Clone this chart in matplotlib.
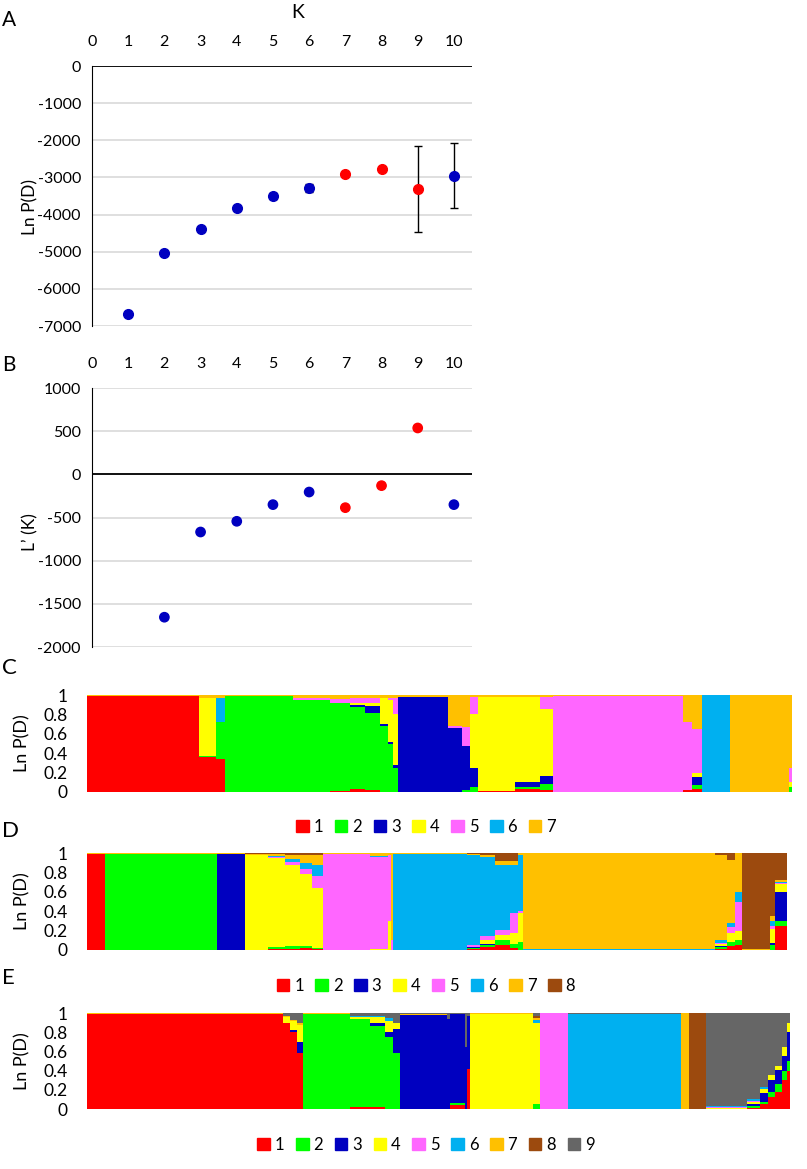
import numpy as np
import matplotlib
matplotlib.use('Agg')
import matplotlib.pyplot as plt
from matplotlib.patches import Patch

# --- A: Ln P(D) per K
k_vals = [1, 2, 3, 4, 5, 6, 7, 8, 9, 10]
lnpd_mean = [-6685, -5030, -4375, -3835, -3495, -3285, -2895, -2765, -3305, -2955]
lnpd_sd = [30, 30, 30, 40, 80, 100, 30, 30, 1160, 875]

# --- B: L'(K)
lk_k = [2, 3, 4, 5, 6, 7, 8, 9, 10]
lk_vals = [-1655, -668, -544, -351, -205, -386, -131, 537, -351]

red_k = [7, 8, 9]  # highlighted K

k_ticks = [0, 1, 2, 3, 4, 5, 6, 7, 8, 9, 10]
a_yticks = [0, -1000, -2000, -3000, -4000, -5000, -6000, -7000]
b_yticks = [1000, 500, 0, -500, -1000, -1500, -2000]
q_ticks = [0, 0.2, 0.4, 0.6, 0.8, 1]
q_ticklabels = ['0', '0.2', '0.4', '0.6', '0.8', '1']

clus_colors = ['#FF0000', '#00FF00', '#0000C0', '#FFFF00', '#FF66FF',
               '#00B0F0', '#FFC000', '#9C4A0E', '#666666']

# --- C: K=7, groups of individuals (count, membership q1..q7)
c_widths = [112, 17, 9, 68, 37, 20, 15, 15, 8, 5, 5, 50, 14, 8, 8, 37, 25, 13, 130, 9, 10, 28, 59, 3]
c_q = [
    [0.99, 0, 0, 0, 0, 0, 0.01],
    [0.36, 0.01, 0, 0.60, 0, 0, 0.03],
    [0.34, 0.38, 0, 0, 0, 0.25, 0.03],
    [0, 0.99, 0, 0, 0, 0, 0.01],
    [0, 0.95, 0, 0, 0.02, 0, 0.03],
    [0.01, 0.91, 0, 0, 0.04, 0, 0.04],
    [0.03, 0.85, 0.02, 0.02, 0.05, 0, 0.03],
    [0.02, 0.79, 0.08, 0.03, 0.05, 0, 0.03],
    [0, 0.68, 0.02, 0.27, 0, 0, 0.03],
    [0, 0.50, 0.02, 0.43, 0.02, 0, 0.03],
    [0, 0.25, 0.03, 0.52, 0.17, 0, 0.03],
    [0, 0, 0.98, 0, 0, 0, 0.02],
    [0, 0, 0.66, 0, 0.02, 0, 0.32],
    [0, 0.02, 0.45, 0, 0.20, 0, 0.33],
    [0, 0.05, 0.20, 0.55, 0.18, 0, 0.02],
    [0.01, 0, 0, 0.97, 0, 0, 0.02],
    [0.03, 0.02, 0.05, 0.88, 0, 0, 0.02],
    [0.02, 0.06, 0.08, 0.70, 0.12, 0, 0.02],
    [0, 0, 0, 0, 0.99, 0, 0.01],
    [0.02, 0, 0, 0, 0.70, 0, 0.28],
    [0.03, 0.04, 0.08, 0.05, 0.45, 0, 0.35],
    [0, 0, 0, 0, 0, 1, 0],
    [0, 0, 0, 0, 0, 0, 1],
    [0, 0.05, 0, 0.05, 0.15, 0, 0.75],
]

# --- D: K=8
d_widths = [18, 112, 28, 23, 17, 15, 12, 11, 47, 18, 3, 2, 74, 13, 15, 15, 8, 5, 192, 12, 8, 7, 28, 5, 12]
d_q = [
    [0.99, 0, 0, 0, 0, 0, 0.01, 0],
    [0, 0.99, 0, 0, 0, 0, 0.01, 0],
    [0, 0, 0.99, 0, 0, 0, 0.01, 0],
    [0, 0, 0, 0.98, 0, 0, 0.01, 0.01],
    [0.01, 0.02, 0, 0.92, 0.01, 0.01, 0.02, 0.01],
    [0.01, 0.03, 0, 0.84, 0.03, 0.03, 0.04, 0.02],
    [0.02, 0.02, 0, 0.74, 0.05, 0.07, 0.08, 0.02],
    [0.01, 0.01, 0, 0.62, 0.12, 0.12, 0.10, 0.02],
    [0, 0, 0, 0, 0.99, 0, 0.01, 0],
    [0, 0, 0, 0.01, 0.95, 0.01, 0.03, 0],
    [0, 0, 0, 0.30, 0.68, 0, 0.02, 0],
    [0, 0, 0, 0, 0.10, 0, 0.90, 0],
    [0, 0, 0, 0, 0, 0.99, 0.01, 0],
    [0.01, 0.01, 0.01, 0, 0.02, 0.93, 0.01, 0.01],
    [0.03, 0.02, 0.01, 0.04, 0.04, 0.82, 0.02, 0.02],
    [0.05, 0.05, 0, 0.05, 0.06, 0.67, 0.04, 0.08],
    [0.02, 0.04, 0, 0.12, 0.20, 0.50, 0.04, 0.08],
    [0, 0.08, 0, 0.30, 0.02, 0.58, 0.02, 0],
    [0, 0, 0, 0, 0, 0.01, 0.99, 0],
    [0.01, 0.02, 0.01, 0.02, 0.01, 0.03, 0.88, 0.02],
    [0.04, 0.04, 0, 0.10, 0.06, 0.04, 0.65, 0.07],
    [0.05, 0.05, 0, 0.10, 0.30, 0.10, 0.40, 0],
    [0, 0, 0, 0, 0, 0, 0.01, 0.99],
    [0, 0.05, 0.02, 0.15, 0.03, 0.05, 0.05, 0.65],
    [0.25, 0.05, 0.30, 0.08, 0.01, 0.01, 0.02, 0.28],
]

# --- E: K=9
e_widths = [196, 7, 7, 6, 47, 20, 15, 8, 7, 47, 3, 15, 2, 3, 63, 7, 28, 113, 8, 17, 41, 13, 8, 7, 7, 5, 3]
e_q = [
    [0.99, 0, 0, 0, 0, 0, 0.005, 0, 0.005],
    [0.90, 0, 0, 0.06, 0, 0, 0.01, 0, 0.03],
    [0.80, 0, 0.02, 0.10, 0, 0, 0.01, 0, 0.07],
    [0.58, 0, 0.12, 0.18, 0, 0, 0.02, 0, 0.10],
    [0, 0.99, 0, 0, 0, 0, 0.005, 0, 0.005],
    [0.02, 0.92, 0, 0.02, 0, 0.01, 0, 0, 0.03],
    [0.02, 0.84, 0.04, 0.06, 0, 0.01, 0, 0, 0.03],
    [0, 0.75, 0.05, 0.12, 0, 0.03, 0, 0, 0.05],
    [0, 0.58, 0.25, 0.07, 0, 0, 0, 0, 0.10],
    [0, 0, 0.98, 0, 0, 0, 0.01, 0, 0.01],
    [0, 0, 0.94, 0, 0, 0, 0, 0, 0.06],
    [0.04, 0.02, 0.93, 0, 0, 0, 0, 0, 0.01],
    [0, 0, 0.65, 0, 0, 0, 0, 0, 0.35],
    [0.42, 0, 0.55, 0, 0, 0, 0, 0, 0.03],
    [0, 0, 0, 0.99, 0, 0, 0.005, 0, 0.005],
    [0, 0.05, 0, 0.85, 0, 0.03, 0.02, 0.02, 0.03],
    [0, 0, 0, 0, 1, 0, 0, 0, 0],
    [0, 0, 0, 0, 0, 0.99, 0, 0, 0.01],
    [0, 0, 0, 0, 0, 0, 1, 0, 0],
    [0, 0, 0, 0, 0, 0, 0, 1, 0],
    [0, 0, 0, 0.01, 0.01, 0.01, 0, 0, 0.97],
    [0.01, 0.02, 0.02, 0.02, 0.01, 0.02, 0, 0, 0.90],
    [0.05, 0.02, 0.10, 0.04, 0, 0.02, 0, 0, 0.77],
    [0.12, 0.06, 0.12, 0.05, 0, 0, 0, 0, 0.65],
    [0.18, 0.08, 0.15, 0.04, 0, 0, 0, 0, 0.55],
    [0.30, 0.10, 0.15, 0.10, 0, 0, 0, 0, 0.35],
    [0.40, 0.10, 0.30, 0.10, 0, 0, 0, 0, 0.10],
]

W, H = 807, 1169
plt.rcParams['font.family'] = ['Lato', 'DejaVu Sans']
plt.rcParams['axes.unicode_minus'] = False

fig = plt.figure(figsize=(W / 100, H / 100), dpi=100)


def px_axes(x0, x1, y0, y1):
    return fig.add_axes([x0 / W, 1 - y1 / H, (x1 - x0) / W, (y1 - y0) / H])


def dot_colors(ks):
    return ['#FF0000' if k in red_k else '#0000C0' for k in ks]


def style_k_axes(ax, yticks, ylim):
    ax.set_xlim(0, 10.5)
    ax.set_ylim(*ylim)
    ax.set_xticks(k_ticks)
    ax.set_yticks(yticks)
    ax.tick_params(axis='x', top=True, labeltop=True, bottom=False, labelbottom=False,
                   length=0, pad=12, labelsize=11.5)
    ax.tick_params(axis='y', length=0, pad=8, labelsize=11.5)
    ax.grid(axis='y', color='#D9D9D9', lw=1.2)
    ax.set_axisbelow(True)
    for s in ['right', 'bottom', 'top']:
        ax.spines[s].set_visible(False)
    ax.spines['left'].set_color('black')


# A
axA = px_axes(92, 472, 66, 326)
style_k_axes(axA, a_yticks, (-7000, 0))
axA.axhline(0, color='black', lw=1.3, zorder=3)
cols = dot_colors(k_vals)
for k, m, s, c in zip(k_vals, lnpd_mean, lnpd_sd, cols):
    axA.errorbar(k, m, yerr=s, fmt='none', ecolor='black', elinewidth=1, capsize=3, zorder=4)
    axA.plot(k, m, 'o', color=c, ms=7, zorder=5)
fig.text(2 / W, 1 - 20 / H, 'A', fontsize=15, va='center', ha='left')
fig.text(298 / W, 1 - 12 / H, 'K', fontsize=14, va='center', ha='center')
fig.text(30 / W, 1 - 207 / H, 'Ln P(D)', fontsize=12.5, rotation=90, va='center', ha='center')

# B
axB = px_axes(92, 472, 388, 647)
style_k_axes(axB, b_yticks, (-2000, 1000))
axB.axhline(0, color='black', lw=1.3, zorder=3)
axB.scatter(lk_k, lk_vals, c=dot_colors(lk_k), s=45, zorder=5)
fig.text(2 / W, 1 - 365 / H, 'B', fontsize=15, va='center', ha='left')
fig.text(30 / W, 1 - 532 / H, 'L\u2019 (K)', fontsize=12.5, rotation=90, va='center', ha='center')


def structure(ax, widths, q):
    q = np.array(q, dtype=float)
    q = q / q.sum(axis=1, keepdims=True)
    left = np.concatenate([[0], np.cumsum(widths)[:-1]])
    bottom = np.zeros(len(widths))
    for k in range(q.shape[1]):
        ax.bar(left, q[:, k], width=widths, bottom=bottom, align='edge',
               color=clus_colors[k], linewidth=0)
        bottom += q[:, k]
    ax.set_xlim(0, sum(widths))
    ax.set_ylim(0, 1)
    ax.set_xticks([])
    ax.set_yticks(q_ticks)
    ax.set_yticklabels(q_ticklabels)
    ax.tick_params(axis='y', length=0, pad=14, labelsize=12.5)
    for s in ax.spines.values():
        s.set_visible(False)
    n = q.shape[1]
    return [Patch(color=clus_colors[k]) for k in range(n)], [str(k + 1) for k in range(n)]


panels = [
    ('C', c_widths, c_q, (87, 792, 695, 792), 668, 827),
    ('D', d_widths, d_q, (87, 787, 853, 950), 831, 986),
    ('E', e_widths, e_q, (87, 790, 1013, 1109), 978, 1145),
]
for letter, wd, q, box, ly, legy in panels:
    ax = px_axes(*box)
    handles, labels = structure(ax, wd, q)
    fig.text(2 / W, 1 - ly / H, letter, fontsize=16, va='center', ha='left')
    fig.text(22 / W, 1 - (box[2] + box[3]) / 2 / H, 'Ln P(D)', fontsize=13,
             rotation=90, va='center', ha='center')
    fig.legend(handles, labels, loc='center', bbox_to_anchor=(426 / W, 1 - legy / H),
               ncol=len(labels), frameon=False, fontsize=12, handlelength=0.75,
               handleheight=0.75, handletextpad=0.3, columnspacing=0.7)

fig.savefig('out.png', dpi=100)
